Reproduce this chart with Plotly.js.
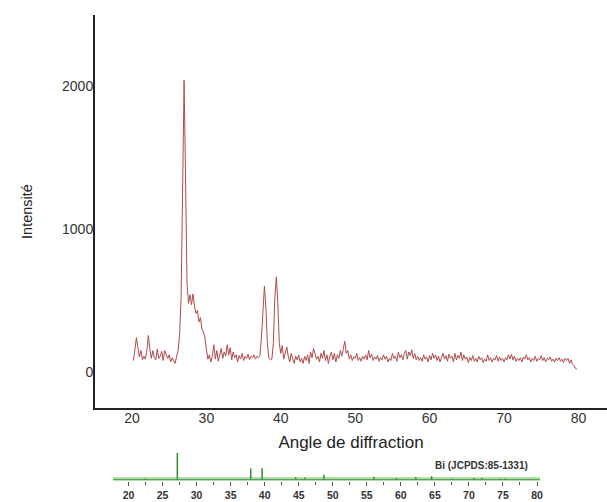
<!DOCTYPE html>
<html>
<head>
<meta charset="utf-8">
<script src="https://cdn.plot.ly/plotly-3.0.1.min.js"></script>
<style>html,body{margin:0;padding:0;background:#fff;}#chart{width:607px;height:502px;}</style>
</head>
<body>
<div id="chart"></div>
<script>
// Measured XRD pattern (2-theta, degrees) and intensity (counts)
const angles = [
 20.2,20.4,20.6,20.8,21.0,21.2,21.4,21.6,21.8,22.0,
 22.2,22.4,22.6,22.8,23.0,23.2,23.4,23.6,23.8,24.0,
 24.2,24.4,24.6,24.8,25.0,25.2,25.4,25.6,25.8,26.0,
 26.2,26.4,26.6,26.8,27.0,27.2,27.4,27.6,27.8,28.0,
 28.2,28.4,28.6,28.8,29.0,29.2,29.4,29.6,29.8,30.0,
 30.2,30.4,30.6,30.8,31.0,31.2,31.4,31.6,31.8,32.0,
 32.2,32.4,32.6,32.8,33.0,33.2,33.4,33.6,33.8,34.0,
 34.2,34.4,34.6,34.8,35.0,35.2,35.4,35.6,35.8,36.0,
 36.2,36.4,36.6,36.8,37.0,37.2,37.4,37.6,37.8,38.0,
 38.2,38.4,38.6,38.8,39.0,39.2,39.4,39.6,39.8,40.0,
 40.2,40.4,40.6,40.8,41.0,41.2,41.4,41.6,41.8,42.0,
 42.2,42.4,42.6,42.8,43.0,43.2,43.4,43.6,43.8,44.0,
 44.2,44.4,44.6,44.8,45.0,45.2,45.4,45.6,45.8,46.0,
 46.2,46.4,46.6,46.8,47.0,47.2,47.4,47.6,47.8,48.0,
 48.2,48.4,48.6,48.8,49.0,49.2,49.4,49.6,49.8,50.0,
 50.2,50.4,50.6,50.8,51.0,51.2,51.4,51.6,51.8,52.0,
 52.2,52.4,52.6,52.8,53.0,53.2,53.4,53.6,53.8,54.0,
 54.2,54.4,54.6,54.8,55.0,55.2,55.4,55.6,55.8,56.0,
 56.2,56.4,56.6,56.8,57.0,57.2,57.4,57.6,57.8,58.0,
 58.2,58.4,58.6,58.8,59.0,59.2,59.4,59.6,59.8,60.0,
 60.2,60.4,60.6,60.8,61.0,61.2,61.4,61.6,61.8,62.0,
 62.2,62.4,62.6,62.8,63.0,63.2,63.4,63.6,63.8,64.0,
 64.2,64.4,64.6,64.8,65.0,65.2,65.4,65.6,65.8,66.0,
 66.2,66.4,66.6,66.8,67.0,67.2,67.4,67.6,67.8,68.0,
 68.2,68.4,68.6,68.8,69.0,69.2,69.4,69.6,69.8,70.0,
 70.2,70.4,70.6,70.8,71.0,71.2,71.4,71.6,71.8,72.0,
 72.2,72.4,72.6,72.8,73.0,73.2,73.4,73.6,73.8,74.0,
 74.2,74.4,74.6,74.8,75.0,75.2,75.4,75.6,75.8,76.0,
 76.2,76.4,76.6,76.8,77.0,77.2,77.4,77.6,77.8,78.0,
 78.2,78.4,78.6,78.8,79.0,79.2,79.4,79.6,79.8
];
const intensity = [
 80,150,240,170,105,150,85,110,90,150,
 255,160,95,150,100,85,160,95,110,145,
 80,150,120,95,120,70,100,80,60,110,
 150,260,520,1250,2040,1350,620,480,540,470,
 545,460,410,430,350,380,300,280,240,160,
 90,120,70,110,190,90,150,75,120,165,
 95,140,110,190,120,170,85,140,100,120,
 70,115,90,130,80,110,95,125,85,110,
 100,120,90,110,100,115,240,480,600,450,
 200,95,85,90,200,520,665,480,200,130,
 185,90,140,175,110,70,130,95,60,110,
 85,120,70,95,60,110,80,120,60,140,
 100,165,130,90,110,70,130,95,150,80,
 120,60,110,140,85,130,70,120,95,150,
 110,160,215,130,150,90,120,80,105,95,
 130,80,100,75,110,90,120,85,150,100,
 125,80,105,90,115,75,100,85,120,90,
 110,70,95,80,130,95,110,75,140,100,
 120,85,130,150,90,140,115,155,95,130,
 85,110,80,100,75,120,90,105,70,115,
 85,130,95,120,80,110,70,100,130,90,
 115,75,125,95,110,70,130,85,115,95,
 140,80,120,90,105,65,100,80,115,75,
 95,70,110,85,100,65,90,75,120,80,
 100,70,95,85,115,75,105,80,95,70,
 100,85,120,90,125,85,110,75,95,80,
 100,70,105,90,120,85,100,70,95,80,
 110,75,95,85,115,80,100,70,95,85,
 105,75,90,70,95,80,100,75,90,65,
 95,80,95,60,85,55,45,25,20
];
// Reference pattern Bi (JCPDS 85-1331): positions and relative intensities
const refAngles = [22.47,27.17,37.95,39.62,44.56,45.88,48.70,56.04,59.36,62.20,64.52,67.45,70.79,71.89,74.50,75.30];
const refIntensity = [4,100,42,42,8,7,18,10,5,8,12,3,6,5,3,3];
const mainTicks = [20,30,40,50,60,70,80];
const yTicks = [0,1000,2000];
const refLabel = 'Bi (JCPDS:85-1331)';

const FONT = 'Arial, "Liberation Sans", sans-serif';
const W = 607, H = 502, L = 95;

const traces = [
  {
    x: angles, y: intensity, type: 'scatter', mode: 'lines',
    line: {color: '#b04a4c', width: 1},
    xaxis: 'x', yaxis: 'y', hoverinfo: 'x+y'
  },
  {
    x: refAngles, y: refIntensity, type: 'bar', width: 0.22,
    marker: {color: '#2e8b2e', line: {width: 0}},
    xaxis: 'x2', yaxis: 'y2', hoverinfo: 'x+y'
  }
];

const pw = W - L;
const layout = {
  width: W, height: H,
  margin: {l: L, r: 0, t: 0, b: 0, pad: 0},
  paper_bgcolor: '#fff', plot_bgcolor: 'rgba(0,0,0,0)',
  showlegend: false,
  font: {family: FONT, color: '#222'},
  xaxis: {
    domain: [0, 1],
    range: [15.03, 83.84],
    tickvals: mainTicks,
    ticks: '', showgrid: false, zeroline: false,
    showline: true, linecolor: '#222', linewidth: 2,
    ticklabelstandoff: -4,
    tickfont: {size: 14, color: '#333', family: FONT},
    title: {text: 'Angle de diffraction', font: {size: 17, color: '#222', family: FONT}, standoff: 11},
    anchor: 'y'
  },
  yaxis: {
    domain: [(H - 408) / H, (H - 15) / H],
    range: [-252, 2497],
    tickvals: yTicks,
    ticks: '', showgrid: false, zeroline: false,
    showline: true, linecolor: '#222', linewidth: 2,
    ticklabelstandoff: -3,
    tickfont: {size: 14, color: '#333', family: FONT},
    title: {text: 'Intensité', font: {size: 14.5, color: '#222', family: FONT}, standoff: 26},
    anchor: 'x'
  },
  xaxis2: {
    domain: [(113 - L) / pw, (540 - L) / pw],
    range: [17.72, 80.44],
    dtick: 5, tick0: 0,
    ticks: 'outside', ticklen: 4, tickwidth: 1, tickcolor: '#555',
    minor: {dtick: 2.5, ticks: 'outside', ticklen: 3, tickcolor: '#555', tickwidth: 1},
    showgrid: false, zeroline: false, showline: false,
    tickfont: {size: 10.5, color: '#333', family: FONT, weight: 'bold'},
    anchor: 'y2'
  },
  yaxis2: {
    domain: [(H - 481) / H, (H - 453) / H],
    range: [-6, 100],
    visible: false, showgrid: false, zeroline: false,
    anchor: 'x2'
  },
  shapes: [
    {type: 'line', layer: 'below', xref: 'x2 domain', yref: 'y2', x0: 0, x1: 1, y0: 0, y1: 0,
     line: {color: '#b7e2b0', width: 5}},
    {type: 'line', layer: 'below', xref: 'x2 domain', yref: 'y2', x0: 0, x1: 1, y0: 0, y1: 0,
     line: {color: '#4d9e4d', width: 1}}
  ],
  annotations: [
    {text: refLabel, xref: 'paper', yref: 'paper',
     x: (481 - L) / pw, y: (H - 465) / H, xanchor: 'center', yanchor: 'middle',
     showarrow: false, font: {size: 10, color: '#333', family: FONT, weight: 'bold'}}
  ]
};

Plotly.newPlot('chart', traces, layout, {displayModeBar: false, staticPlot: true});
</script>
</body>
</html>
